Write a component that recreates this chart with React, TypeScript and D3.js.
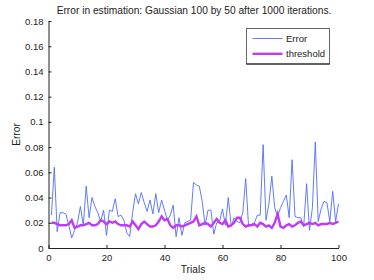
import React, { useEffect, useRef } from "react";
import * as d3 from "d3";

// values, trials 1..100
const trials = d3.range(1, 101);

const errorValues = [
  0.026, 0.064, 0.013, 0.028, 0.028, 0.027, 0.018, 0.008, 0.014, 0.02,
  0.033, 0.018, 0.049, 0.024, 0.04, 0.033, 0.028, 0.021, 0.03, 0.01,
  0.03, 0.029, 0.039, 0.025, 0.026, 0.022, 0.012, 0.009, 0.028, 0.043,
  0.035, 0.044, 0.036, 0.029, 0.038, 0.027, 0.043, 0.028, 0.038, 0.03,
  0.022, 0.026, 0.034, 0.009, 0.024, 0.01, 0.02, 0.021, 0.022, 0.052,
  0.05, 0.049, 0.037, 0.018, 0.03, 0.03, 0.011, 0.02, 0.021, 0.031,
  0.018, 0.04, 0.017, 0.024, 0.021, 0.02, 0.028, 0.055, 0.017, 0.019,
  0.02, 0.026, 0.026, 0.082, 0.022, 0.035, 0.057, 0.032, 0.025, 0.032,
  0.037, 0.042, 0.024, 0.07, 0.025, 0.024, 0.024, 0.017, 0.051, 0.014,
  0.032, 0.084, 0.021, 0.031, 0.037, 0.036, 0.021, 0.045, 0.021, 0.035,
];

const thresholdValues = [
  0.02, 0.02, 0.019, 0.018, 0.018, 0.018, 0.019, 0.022, 0.016, 0.017,
  0.018, 0.018, 0.019, 0.02, 0.018, 0.018, 0.019, 0.022, 0.021, 0.019,
  0.021, 0.02, 0.021, 0.019, 0.018, 0.018, 0.018, 0.017, 0.021, 0.018,
  0.015, 0.019, 0.021, 0.019, 0.017, 0.017, 0.018, 0.021, 0.025, 0.022,
  0.023, 0.018, 0.016, 0.018, 0.018, 0.017, 0.018, 0.019, 0.02, 0.021,
  0.025, 0.018, 0.019, 0.02, 0.019, 0.017, 0.02, 0.023, 0.02, 0.019,
  0.022, 0.017, 0.018, 0.02, 0.024, 0.024, 0.019, 0.017, 0.018, 0.018,
  0.019, 0.017, 0.02, 0.019, 0.017, 0.018, 0.016, 0.02, 0.027, 0.017,
  0.016, 0.018, 0.019, 0.017, 0.018, 0.02, 0.021, 0.018, 0.019, 0.02,
  0.019, 0.02, 0.018, 0.019, 0.019, 0.019, 0.02, 0.019, 0.02, 0.021,
];

const xTicks = [0, 20, 40, 60, 80, 100];
const yTicks = [0, 0.02, 0.04, 0.06, 0.08, 0.1, 0.12, 0.14, 0.16, 0.18];

const seriesNames = ["Error", "threshold"];
const seriesColors = ["#4f6dff", "#bf3cf5"];

const App = () => {
  const svgRef = useRef<SVGSVGElement | null>(null);

  useEffect(() => {
    const width = 374,
      height = 280;
    const margin = { top: 21, right: 35.5, bottom: 32, left: 48.5 };

    const svg = d3.select(svgRef.current);
    svg.selectAll("*").remove();
    svg.attr("width", width).attr("height", height);

    const font = "'Liberation Sans', Arial, sans-serif";

    const x = d3
      .scaleLinear()
      .domain([0, 100])
      .range([margin.left, width - margin.right]);
    const y = d3
      .scaleLinear()
      .domain([0, 0.18])
      .range([height - margin.bottom, margin.top]);

    // title
    svg
      .append("text")
      .attr("x", 194)
      .attr("y", 14)
      .attr("text-anchor", "middle")
      .style("font-family", font)
      .style("font-size", "10.2px")
      .style("fill", "#222")
      .text("Error in estimation: Gaussian 100 by 50 after 1000 iterations.");

    // lines
    const line = d3
      .line<number>()
      .x((d, i) => x(trials[i]))
      .y((d) => y(d));

    svg
      .append("path")
      .datum(errorValues)
      .attr("d", line)
      .attr("fill", "none")
      .attr("stroke", seriesColors[0])
      .attr("stroke-width", 0.9);

    svg
      .append("path")
      .datum(thresholdValues)
      .attr("d", line)
      .attr("fill", "none")
      .attr("stroke", seriesColors[1])
      .attr("stroke-width", 2.4);

    // axes, MATLAB style: ticks inside, box off
    const xAxis = svg
      .append("g")
      .attr("transform", `translate(0,${y(0)})`)
      .call(d3.axisBottom(x).tickValues(xTicks).tickSizeInner(-3).tickSizeOuter(0).tickPadding(6));
    const yAxis = svg
      .append("g")
      .attr("transform", `translate(${x(0)},0)`)
      .call(
        d3
          .axisLeft(y)
          .tickValues(yTicks)
          .tickSizeInner(-3)
          .tickSizeOuter(0)
          .tickPadding(5)
          .tickFormat((d) => d3.format("")(+(+d).toFixed(2)))
      );

    [xAxis, yAxis].forEach((g) => {
      g.select(".domain").attr("stroke", "#222");
      g.selectAll(".tick line").attr("stroke", "#222");
      g.selectAll(".tick text")
        .style("font-family", font)
        .style("font-size", "9.5px")
        .style("fill", "#222");
    });

    svg
      .append("text")
      .attr("x", 193)
      .attr("y", 273)
      .attr("text-anchor", "middle")
      .style("font-family", font)
      .style("font-size", "10.2px")
      .style("fill", "#222")
      .text("Trials");

    svg
      .append("text")
      .attr("transform", `translate(20,${(y(0) + y(0.18)) / 2}) rotate(-90)`)
      .attr("text-anchor", "middle")
      .style("font-family", font)
      .style("font-size", "10.2px")
      .style("fill", "#222")
      .text("Error");

    // legend
    const lg = svg.append("g").attr("transform", "translate(246.5,28.5)");
    lg.append("rect")
      .attr("width", 83)
      .attr("height", 35.5)
      .attr("fill", "white")
      .attr("stroke", "#666");
    lg.append("line")
      .attr("x1", 0)
      .attr("x2", 83)
      .attr("y1", 35.5)
      .attr("y2", 35.5)
      .attr("stroke", "#111");
    seriesNames.forEach((name, i) => {
      const yy = 10 + i * 15.3;
      lg.append("line")
        .attr("x1", 6)
        .attr("x2", 36)
        .attr("y1", yy)
        .attr("y2", yy)
        .attr("stroke", seriesColors[i])
        .attr("stroke-width", i === 0 ? 0.9 : 2.4);
      lg.append("text")
        .attr("x", 39.5)
        .attr("y", yy + 3.5)
        .style("font-family", font)
        .style("font-size", "9.5px")
        .style("fill", "#222")
        .text(name);
    });
  }, []);

  return (
    <div>
      <svg ref={svgRef} style={{ position: "absolute", left: 0, top: 0, background: "white" }} />
    </div>
  );
};

export default App;
